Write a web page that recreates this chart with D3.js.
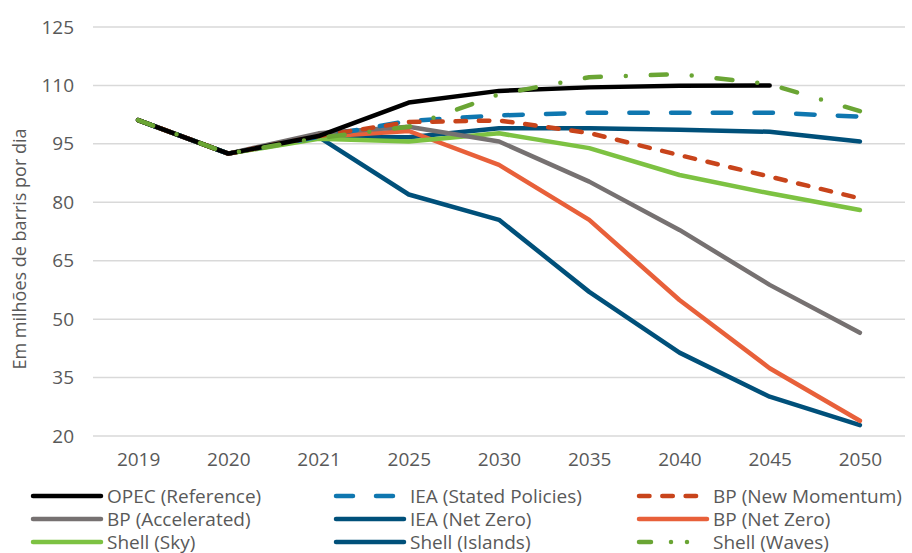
<!DOCTYPE html>
<html>
<head>
<meta charset="utf-8">
<script src="https://cdn.jsdelivr.net/npm/d3@7"></script>
<style>
  body { margin: 0; background: #fff; }
  text { font-family: "Open Sans", sans-serif; fill: #595959; }
</style>
</head>
<body>
<div id="chart"></div>
<script>
// categories and tick values
var years = ["2019", "2020", "2021", "2025", "2030", "2035", "2040", "2045", "2050"]
var yTicks = [20, 35, 50, 65, 80, 95, 110, 125]

// series (millions of barrels per day)
var opecRef      = [101.1, 92.5, 97.0, 105.6, 108.6, 109.5, 109.9, 110.0, null]
var ieaStated    = [101.1, 92.5, 96.8, 100.9, 102.3, 103.0, 103.0, 103.0, 102.0]
var bpMomentum   = [101.1, 92.5, 97.0, 100.6, 101.0, 97.8, 92.1, 86.6, 81.0]
var bpAccel      = [101.1, 92.5, 97.7, 99.4, 95.6, 85.3, 72.9, 58.8, 46.5]
var ieaNetZero   = [101.1, 92.5, 96.8, 82.0, 75.5, 57.0, 41.4, 30.1, 22.8]
var bpNetZero    = [101.1, 92.5, 96.8, 98.3, 89.6, 75.5, 54.9, 37.4, 23.9]
var shellSky     = [101.1, 92.5, 96.3, 95.6, 97.7, 93.9, 87.0, 82.3, 78.0]
var shellIslands = [101.1, 92.5, 96.8, 96.7, 99.0, 99.0, 98.6, 98.1, 95.6]
var shellWaves   = [101.1, 92.5, 96.5, 99.4, 107.7, 112.1, 112.9, 110.3, 103.4]

var w = 912, h = 553

// series styling, drawing order = back to front
var series = [
	{name: "Shell (Islands)",       values: shellIslands, colour: "#00507a", dash: null},
	{name: "IEA (Net Zero)",        values: ieaNetZero,   colour: "#00507a", dash: null},
	{name: "BP (Net Zero)",         values: bpNetZero,    colour: "#e8603a", dash: null},
	{name: "Shell (Sky)",           values: shellSky,     colour: "#7dc242", dash: null},
	{name: "BP (Accelerated)",      values: bpAccel,      colour: "#767171", dash: null},
	{name: "IEA (Stated Policies)", values: ieaStated,    colour: "#0f77b0", dash: "18.5,23.2", legDash: "17,23"},
	{name: "BP (New Momentum)",     values: bpMomentum,   colour: "#c8441b", dash: "10.5,12.8", legDash: "10.5,12.8"},
	{name: "OPEC (Reference)",      values: opecRef,      colour: "#000000", dash: null},
	{name: "Shell (Waves)",         values: shellWaves,   colour: "#6aa534", dash: "16,25,0,25", legDash: "12,20,0,16,0,40"}
]

// legend order (rows of three)
var legendOrder = ["OPEC (Reference)", "IEA (Stated Policies)", "BP (New Momentum)",
	"BP (Accelerated)", "IEA (Net Zero)", "BP (Net Zero)",
	"Shell (Sky)", "Shell (Islands)", "Shell (Waves)"]

var svg = d3.select("#chart")
	.append("svg")
	.attr("width", w)
	.attr("height", h)

var x = d3.scalePoint()
	.domain(years)
	.range([93, 905])
	.padding(0.5)

var y = d3.scaleLinear()
	.domain([20, 125])
	.range([436, 27])

// gridlines
svg.append("g")
	.selectAll("line")
	.data(yTicks)
	.enter()
	.append("line")
	.attr("x1", 93)
	.attr("x2", 905)
	.attr("y1", function(d) {return y(d)})
	.attr("y2", function(d) {return y(d)})
	.style("stroke", "#d9d9d9")
	.style("stroke-width", 1.5)

// y axis labels
var yAxis = svg.append("g")
	.attr("transform", "translate(82,0)")
	.call(d3.axisLeft(y).tickValues(yTicks).tickSize(0).tickPadding(8))
yAxis.select(".domain").remove()
yAxis.selectAll("text")
	.style("font-size", "19px")
	.style("font-family", "'Open Sans', sans-serif")
	.attr("fill", "#595959")

// x axis labels
var xAxis = svg.append("g")
	.attr("transform", "translate(0,446)")
	.call(d3.axisBottom(x).tickSize(0).tickPadding(6))
xAxis.select(".domain").remove()
xAxis.selectAll("text")
	.style("font-size", "19px")
	.style("font-family", "'Open Sans', sans-serif")
	.attr("fill", "#595959")

// y axis title
svg.append("text")
	.attr("transform", "translate(26,249) rotate(-90)")
	.attr("text-anchor", "middle")
	.style("font-size", "18px")
	.text("Em milhões de barris por dia")

// lines
var line = d3.line()
	.defined(function(d) {return d != null})
	.x(function(d, i) {return x(years[i])})
	.y(function(d) {return y(d)})

svg.append("g")
	.selectAll("path")
	.data(series)
	.enter()
	.append("path")
	.attr("d", function(d) {return line(d.values)})
	.style("fill", "none")
	.style("stroke", function(d) {return d.colour})
	.style("stroke-width", 4.5)
	.style("stroke-linecap", "round")
	.style("stroke-linejoin", "round")
	.style("stroke-dasharray", function(d) {return d.dash})

// legend
var legend = svg.append("g")
	.selectAll("g")
	.data(legendOrder.map(function(n) {return series.find(function(s) {return s.name == n})}))
	.enter()
	.append("g")
	.attr("transform", function(d, i) {
		return "translate(" + [33, 336, 639][i % 3] + "," + (496 + Math.floor(i / 3) * 23) + ")"
	})

legend.append("line")
	.attr("x1", 0)
	.attr("x2", 68)
	.style("stroke", function(d) {return d.colour})
	.style("stroke-width", 4.5)
	.style("stroke-linecap", "round")
	.style("stroke-dasharray", function(d) {return d.legDash || null})

legend.append("text")
	.attr("x", 74)
	.attr("dy", "0.35em")
	.style("font-size", "19px")
	.text(function(d) {return d.name})
</script>
</body>
</html>
